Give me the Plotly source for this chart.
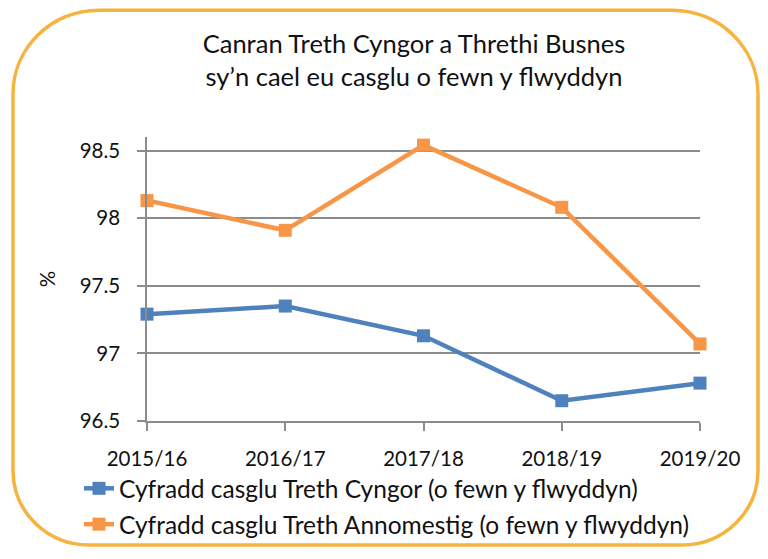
import plotly.graph_objects as go

years = ["2015/16", "2016/17", "2017/18", "2018/19", "2019/20"]
council_tax = [97.29, 97.35, 97.13, 96.65, 96.78]
non_domestic = [98.13, 97.91, 98.54, 98.08, 97.07]
series_names = ["Cyfradd casglu Treth Cyngor (o fewn y flwyddyn)",
                "Cyfradd casglu Treth Annomestig (o fewn y flwyddyn)"]
y_ticks = [96.5, 97, 97.5, 98, 98.5]
y_tick_text = ["96.5", "97", "97.5", "98", "98.5"]
title_text = "Canran Treth Cyngor a Threthi Busnes<br>sy’n cael eu casglu o fewn y flwyddyn"

W, H = 768, 559
L, R, T, B = 147, 68, 137, 131
PW, PH = W - L - R, H - T - B

def px(x):
    return (x - L) / PW

def py(y):
    return (H - B - y) / PH

BLUE = "#4F81BD"
ORANGE = "#F79646"
FONT = "Lato, Carlito, Calibri, sans-serif"

fig = go.Figure()
for i, (vals, name, col) in enumerate([(council_tax, series_names[0], BLUE),
                                       (non_domestic, series_names[1], ORANGE)]):
    fig.add_trace(go.Scatter(
        x=years, y=vals, name=name, mode="lines+markers",
        line=dict(color=col, width=4.5),
        marker=dict(symbol="square", size=13, color=col),
        cliponaxis=False, legendgroup=f"g{i}",
    ))

# rounded border
l, r, t, b = 13, 758, 7, 555
rt, rb = 86, 76
k = 0.5523
path = (
    f"M {px(l+rt)},{py(t)} L {px(r-rt)},{py(t)} "
    f"C {px(r-rt+rt*k)},{py(t)} {px(r)},{py(t+rt-rt*k)} {px(r)},{py(t+rt)} "
    f"L {px(r)},{py(b-rb)} "
    f"C {px(r)},{py(b-rb+rb*k)} {px(r-rb+rb*k)},{py(b)} {px(r-rb)},{py(b)} "
    f"L {px(l+rb)},{py(b)} "
    f"C {px(l+rb-rb*k)},{py(b)} {px(l)},{py(b-rb+rb*k)} {px(l)},{py(b-rb)} "
    f"L {px(l)},{py(t+rt)} "
    f"C {px(l)},{py(t+rt-rt*k)} {px(l+rt-rt*k)},{py(t)} {px(l+rt)},{py(t)} Z"
)
fig.add_shape(type="path", path=path, xref="paper", yref="paper",
              line=dict(color="#F6B33F", width=3.5), layer="below")

fig.update_layout(
    width=W, height=H,
    margin=dict(l=L, r=R, t=T, b=B),
    paper_bgcolor="white", plot_bgcolor="white",
    title=dict(text=title_text, x=414 / W, xref="container", xanchor="center",
               y=1 - 53 / H, yref="container", yanchor="top",
               font=dict(family=FONT, size=25.5, color="#111111")),
    font=dict(family=FONT, size=20, color="#111111"),
    showlegend=True,
    legend=dict(x=px(79), xanchor="left", y=py(474), yanchor="top",
                font=dict(family=FONT, size=24.5, color="#111111"),
                bgcolor="rgba(0,0,0,0)", tracegroupgap=1,
                itemwidth=30),
)
fig.update_xaxes(
    type="category", range=[0, 4], showgrid=False,
    showline=True, linecolor="#8C8C8C", linewidth=1.5,
    ticks="outside", ticklen=8, tickcolor="#8C8C8C", tickwidth=1.5,
    tickfont=dict(family=FONT, size=20.5, color="#111111"),
    ticklabelstandoff=11,
)
fig.update_yaxes(
    range=[96.5, 98.6], tickvals=y_ticks, ticktext=y_tick_text,
    showgrid=True, gridcolor="#8C8C8C", gridwidth=1.5,
    showline=True, linecolor="#8C8C8C", linewidth=1.5,
    ticks="outside", ticklen=8, tickcolor="#8C8C8C", tickwidth=1.5,
    tickfont=dict(family=FONT, size=20.5, color="#111111"),
    ticklabelstandoff=13,
    zeroline=False,
    title=dict(text="%", font=dict(family=FONT, size=20.5, color="#111111"), standoff=18),
)

fig.write_html("out.html", config={"displayModeBar": False},
               post_script="document.body.style.margin='0px';document.body.style.padding='0px';")
